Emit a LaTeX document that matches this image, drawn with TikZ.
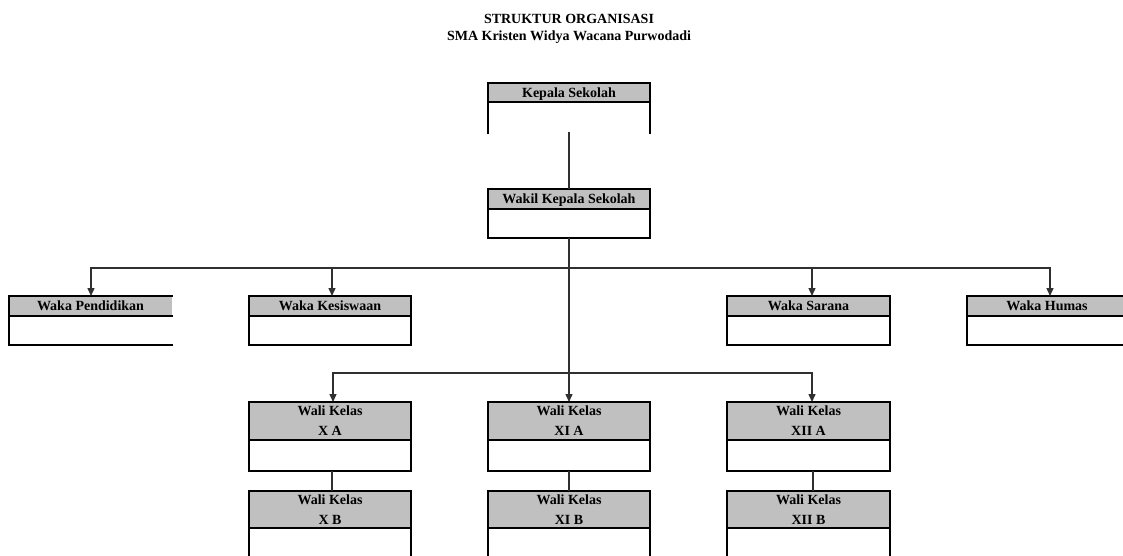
\documentclass[tikz,border=0pt]{standalone}
\usepackage{fontspec}
\setmainfont{Liberation Serif}
\usetikzlibrary{arrows.meta}
\definecolor{hdrgray}{HTML}{C0C0C0}
\definecolor{lnc}{HTML}{303030}
\begin{document}
\begin{tikzpicture}[x=1pt,y=-1pt,
  box/.style={draw=black, line width=1.3pt, inner sep=0pt, outer sep=0pt, minimum width=162},
  hdr/.style={box, fill=hdrgray, font=\bfseries\fontsize{14}{20}\selectfont, align=center, text depth=0pt},
  bdy/.style={box, fill=white},
  bl/.style={draw=black, line width=1.3pt, line cap=rect},
  conn/.style={draw=lnc, line width=1.4pt},
  arr/.style={conn, -{Triangle[width=7pt,length=8pt]}},
  titletext/.style={font=\bfseries\fontsize{14}{17}\selectfont, inner sep=0pt, anchor=base}
]
\useasboundingbox (0,0) rectangle (1123,555);

% title
\node[titletext] (t1) at (569,23) {STRUKTUR ORGANISASI};
\node[titletext] (t2) at (569,40) {SMA Kristen Widya Wacana Purwodadi};

% Kepala Sekolah (body open at bottom)
\node[hdr, minimum height=19] (kepH) at (569,92.5) {Kepala Sekolah};
\node[bdy, draw=none, fill=none, minimum height=31, anchor=north] (kep) at (kepH.south) {};
\draw[bl] (kep.north west) -- (kep.south west) (kep.north east) -- (kep.south east);

% Wakil
\node[hdr, minimum height=20] (wakH) at (569,199) {Wakil Kepala Sekolah};
\node[bdy, minimum height=29, anchor=north] (wak) at (wakH.south) {};

% Row 2
\node[hdr, draw=none, minimum width=163, minimum height=20] (pendH) at (90.5,306) {Waka Pendidikan};
\node[bdy, draw=none, minimum width=163, minimum height=29, anchor=north] (pend) at (pendH.south) {};
\draw[bl] (pendH.north east) -- (pendH.north west) -- (pend.south west) -- (pend.south east);
\draw[bl] (pendH.south west) -- (pendH.south east);

\node[hdr, minimum height=20] (kesH) at (330,306) {Waka Kesiswaan};
\node[bdy, minimum height=29, anchor=north] (kes) at (kesH.south) {};

\node[hdr, minimum width=163, minimum height=20] (sarH) at (808.5,306) {Waka Sarana};
\node[bdy, minimum width=163, minimum height=29, anchor=north] (sar) at (sarH.south) {};

\node[hdr, draw=none, minimum width=160, minimum height=20] (humH) at (1047,306) {Waka Humas};
\node[bdy, draw=none, minimum width=160, minimum height=29, anchor=north] (hum) at (humH.south) {};
\draw[bl] (humH.north east) -- (humH.north west) -- (hum.south west) -- (hum.south east);
\draw[bl] (humH.south west) -- (humH.south east);

% Row 3
\node[hdr, minimum height=38] (xaH) at (330,421) {Wali Kelas\\X A};
\node[bdy, minimum height=31, anchor=north] (xa) at (xaH.south) {};
\node[hdr, minimum height=38] (xiaH) at (569,421) {Wali Kelas\\XI A};
\node[bdy, minimum height=31, anchor=north] (xia) at (xiaH.south) {};
\node[hdr, minimum width=163, minimum height=38] (xiiaH) at (808.5,421) {Wali Kelas\\XII A};
\node[bdy, minimum width=163, minimum height=31, anchor=north] (xiia) at (xiiaH.south) {};

% Row 4 (open at bottom)
\node[hdr, minimum height=37] (xbH) at (330,509.5) {Wali Kelas\\X B};
\node[bdy, draw=none, fill=none, minimum height=27, anchor=north] (xb) at (xbH.south) {};
\draw[bl] (xb.north west) -- (xb.south west) (xb.north east) -- (xb.south east);
\node[hdr, minimum height=37] (xibH) at (569,509.5) {Wali Kelas\\XI B};
\node[bdy, draw=none, fill=none, minimum height=27, anchor=north] (xib) at (xibH.south) {};
\draw[bl] (xib.north west) -- (xib.south west) (xib.north east) -- (xib.south east);
\node[hdr, minimum width=163, minimum height=37] (xiibH) at (808.5,509.5) {Wali Kelas\\XII B};
\node[bdy, draw=none, fill=none, minimum width=163, minimum height=27, anchor=north] (xiib) at (xiibH.south) {};
\draw[bl] (xiib.north west) -- (xiib.south west) (xiib.north east) -- (xiib.south east);

% connectors
\coordinate (bus1) at (569,268);
\coordinate (bus2) at (569,373);
\draw[conn] ([yshift=1]kep.south) -- (wakH.north);
\draw[conn] (wak.south) -- (bus2);
\draw[arr] (bus2) -- (xiaH.north);
\draw[arr] (bus1) -| ([xshift=0.5]pendH.north);
\draw[arr] (bus1) -| ([xshift=2]kesH.north);
\draw[arr] (bus1) -| ([xshift=3.5]sarH.north);
\draw[arr] (bus1) -| ([xshift=3]humH.north);
\draw[arr] (bus2) -| ([xshift=3]xaH.north);
\draw[arr] (bus2) -| ([xshift=3.5]xiiaH.north);
\draw[conn] ([xshift=2]xa.south) -- ([xshift=2]xbH.north);
\draw[conn] (xia.south) -- (xibH.north);
\draw[conn] ([xshift=4.5]xiia.south) -- ([xshift=4.5]xiibH.north);
\end{tikzpicture}
\end{document}
